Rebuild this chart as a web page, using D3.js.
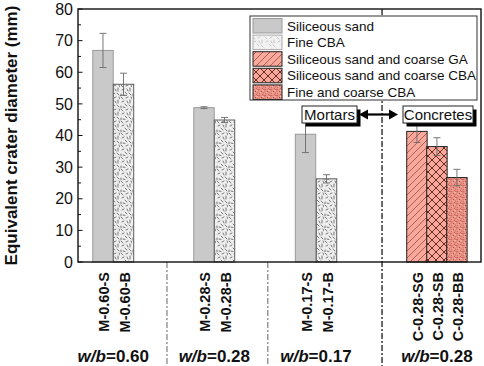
<!DOCTYPE html>
<html><head><meta charset="utf-8">
<script src="https://cdn.jsdelivr.net/npm/d3@7"></script>
<style>body{margin:0;background:#fff}svg{display:block}text{font-family:"Liberation Sans",Arial,sans-serif}</style>
</head><body>
<script>
const categories = ["M-0.60-S","M-0.60-B","M-0.28-S","M-0.28-B","M-0.17-S","M-0.17-B","C-0.28-SG","C-0.28-SB","C-0.28-BB"];
const values = [66.9, 56.2, 48.8, 44.9, 40.4, 26.3, 41.3, 36.5, 26.7];
const errors = [5.4, 3.5, 0.3, 0.8, 5.8, 1.3, 3.5, 2.8, 2.6];
const seriesOf = ["S","B","S","B","S","B","SG","SB","BB"];
const seriesKeys = ["S","B","SG","SB","BB"];
const seriesNames = ["Siliceous sand","Fine CBA","Siliceous sand and coarse GA","Siliceous sand and coarse CBA","Fine and coarse CBA"];
const groupRatios = ["0.60","0.28","0.17","0.28"];
const yTicks = [0,10,20,30,40,50,60,70,80];

// layout (slot units, one slot = one bar width)
const barSlots = [1.225,2.23,6.175,7.18,11.15,12.18,16.61,17.59,18.57];
const groupSlots = [1.73,6.68,11.66,17.59];
const sepSlots = [4.36,9.3,14.9];

const W=484,H=366, L=78,R=481,T=9,B=262;
const svg=d3.select("body").append("svg").attr("width",W).attr("height",H);
const x=d3.scaleLinear().domain([0,19.75]).range([L,R]);
const y=d3.scaleLinear().domain([0,80]).range([B,T]);
const bw = x(1)-x(0);

const defs=svg.append("defs");
const salmon="#f8a99c";
{
 const p=defs.append("pattern").attr("id","pB").attr("patternUnits","userSpaceOnUse").attr("width",12).attr("height",12);
 p.append("rect").attr("width",12).attr("height",12).attr("fill","#efefef");
 const segs=[[1,1,3,3],[6,2,8,1],[10,4,10,7],[2,6,4,5],[5,8,7,10],[9,9,11,11],[1,10,1,12],[7,5,8,7],[3,11,5,11.5],[11,1,12,3]];
 segs.forEach(s=>p.append("line").attr("x1",s[0]).attr("y1",s[1]).attr("x2",s[2]).attr("y2",s[3]).attr("stroke","#757575").attr("stroke-width",1).attr("stroke-linecap","round"));
}
{
 const p=defs.append("pattern").attr("id","pB2").attr("patternUnits","userSpaceOnUse").attr("width",12).attr("height",12);
 p.append("rect").attr("width",12).attr("height",12).attr("fill","#f2f2f2");
 const segs=[[1,1,3,3],[6,2,8,1],[10,4,10,7],[2,6,4,5],[5,8,7,10],[9,9,11,11],[7,5,8,7]];
 segs.forEach(s=>p.append("line").attr("x1",s[0]).attr("y1",s[1]).attr("x2",s[2]).attr("y2",s[3]).attr("stroke","#c4c4c4").attr("stroke-width",1).attr("stroke-linecap","round"));
}
{
 const p=defs.append("pattern").attr("id","pSG").attr("patternUnits","userSpaceOnUse").attr("width",7).attr("height",7);
 p.append("rect").attr("width",7).attr("height",7).attr("fill",salmon);
 p.append("path").attr("d","M-1,8 L8,-1 M-1,1 L1,-1 M6,8 L8,6").attr("stroke","#9a4a40").attr("stroke-width",0.8);
}
{
 const p=defs.append("pattern").attr("id","pSB").attr("patternUnits","userSpaceOnUse").attr("width",8).attr("height",8);
 p.append("rect").attr("width",8).attr("height",8).attr("fill",salmon);
 p.append("path").attr("d","M-1,9 L9,-1 M-1,-1 L9,9 M-1,1 L1,-1 M7,9 L9,7 M-1,7 L1,9 M7,-1 L9,1").attr("stroke","#5a1d17").attr("stroke-width",0.9);
}
{
 const p=defs.append("pattern").attr("id","pBB").attr("patternUnits","userSpaceOnUse").attr("width",6).attr("height",6);
 p.append("rect").attr("width",6).attr("height",6).attr("fill","#ec9487");
 const dots=[[0.5,0.5],[3,1],[5,2.5],[1.5,3],[4,4],[0.5,5],[2.5,5.5],[5.5,5]];
 dots.forEach((d,i)=>p.append("rect").attr("x",d[0]).attr("y",d[1]).attr("width",1).attr("height",1).attr("fill",i%2?"#a8463c":"#c4645a"));
 p.append("rect").attr("x",2).attr("y",2.5).attr("width",1).attr("height",1).attr("fill","#fbd0c8");
 p.append("rect").attr("x",4.5).attr("y",0).attr("width",1).attr("height",1).attr("fill","#fbd0c8");
}
const fills={S:"#c9c9c9",B:"url(#pB)",SG:"url(#pSG)",SB:"url(#pSB)",BB:"url(#pBB)"};
const legFills={S:"#c9c9c9",B:"url(#pB2)",SG:"url(#pSG)",SB:"url(#pSB)",BB:"url(#pBB)"};
const strokes={S:"#9a9a9a",B:"#5e5e5e",SG:"#222",SB:"#222",BB:"#222"};

sepSlots.forEach((s,i)=>{
  svg.append("line").attr("x1",x(s)).attr("x2",x(s)).attr("y1",i===2?T:B).attr("y2",H)
   .attr("stroke",i===2?"#3a3a3a":"#9a9a9a").attr("stroke-width",1.5).attr("stroke-dasharray","6,2,2,2");
});

const idx=d3.range(categories.length);
svg.append("g").selectAll("rect").data(idx).join("rect")
 .attr("x",i=>x(barSlots[i])-bw/2).attr("width",bw)
 .attr("y",i=>y(values[i])).attr("height",i=>y(0)-y(values[i]))
 .attr("fill",i=>fills[seriesOf[i]]).attr("stroke",i=>strokes[seriesOf[i]]).attr("stroke-width",1);

const eg=svg.append("g").attr("stroke","#6a6a6a").attr("stroke-width",0.9).attr("fill","none");
idx.forEach(i=>{
  const cx=x(barSlots[i]);
  eg.append("line").attr("x1",cx).attr("x2",cx).attr("y1",y(values[i]+errors[i])).attr("y2",y(values[i]-errors[i]));
  [values[i]+errors[i],values[i]-errors[i]].forEach(v=>eg.append("line").attr("x1",cx-3.5).attr("x2",cx+3.5).attr("y1",y(v)).attr("y2",y(v)));
});

const ya=d3.axisLeft(y).tickValues(yTicks).tickSize(0).tickPadding(5);
const yg=svg.append("g").attr("transform",`translate(${L},0)`).call(ya);
yg.select(".domain").remove();
yg.selectAll("text").attr("font-size",16).attr("fill","#111");
d3.range(0,81,5).forEach(v=>{
  svg.append("line").attr("x1",L).attr("x2",L+(v%10===0?4.5:3)).attr("y1",y(v)).attr("y2",y(v)).attr("stroke","#111").attr("stroke-width",1);
});
svg.append("rect").attr("x",L).attr("y",T).attr("width",R-L).attr("height",B-T).attr("fill","none").attr("stroke","#111").attr("stroke-width",1.4);

svg.append("text").attr("transform",`translate(16.5,${(T+B)/2}) rotate(-90)`).attr("text-anchor","middle")
 .attr("font-size",17).attr("font-weight","bold").attr("fill","#111").text("Equivalent crater diameter (mm)");

svg.append("g").selectAll("text").data(idx).join("text")
 .attr("transform",i=>`translate(${x(barSlots[i])+6},272) rotate(-90)`).attr("text-anchor","end")
 .attr("font-size",14.5).attr("font-weight","bold").attr("fill","#111").text(i=>categories[i]);

groupRatios.forEach((r,i)=>{
  const t=svg.append("text").attr("x",x(groupSlots[i])).attr("y",362).attr("text-anchor","middle")
   .attr("font-size",17).attr("font-weight","bold").attr("fill","#111");
  t.append("tspan").attr("font-style","italic").text("w/b");
  t.append("tspan").text("="+r);
});

const lg=svg.append("g");
lg.append("rect").attr("x",250).attr("y",16).attr("width",227).attr("height",84).attr("fill","#fff").attr("stroke","#333").attr("stroke-width",1);
seriesKeys.forEach((k,i)=>{
  const yy=18.5+i*16.6;
  lg.append("rect").attr("x",253).attr("y",yy).attr("width",29).attr("height",14.5)
    .attr("fill",legFills[k]).attr("stroke",k==="S"?"#9a9a9a":(k==="B"?"#aaa":"#222")).attr("stroke-width",1);
  lg.append("text").attr("x",287).attr("y",yy+12).attr("font-size",13.5).attr("fill","#111").text(seriesNames[i]);
});

function tag(x0,w,label){
  svg.append("rect").attr("x",x0+3.5).attr("y",109.5).attr("width",w).attr("height",17).attr("fill","#000");
  svg.append("rect").attr("x",x0).attr("y",106).attr("width",w).attr("height",17).attr("fill","#fff").attr("stroke","#222").attr("stroke-width",1);
  svg.append("text").attr("x",x0+w/2).attr("y",120).attr("text-anchor","middle").attr("font-size",15).attr("fill","#111").text(label);
}
tag(302,55,"Mortars");
tag(403,70,"Concretes");
svg.append("line").attr("x1",366).attr("x2",391).attr("y1",114.5).attr("y2",114.5).attr("stroke","#000").attr("stroke-width",2.2);
svg.append("path").attr("d","M359,114.5 L368,109.5 L368,119.5 Z M398,114.5 L389,109.5 L389,119.5 Z").attr("fill","#000");
</script>
</body></html>
